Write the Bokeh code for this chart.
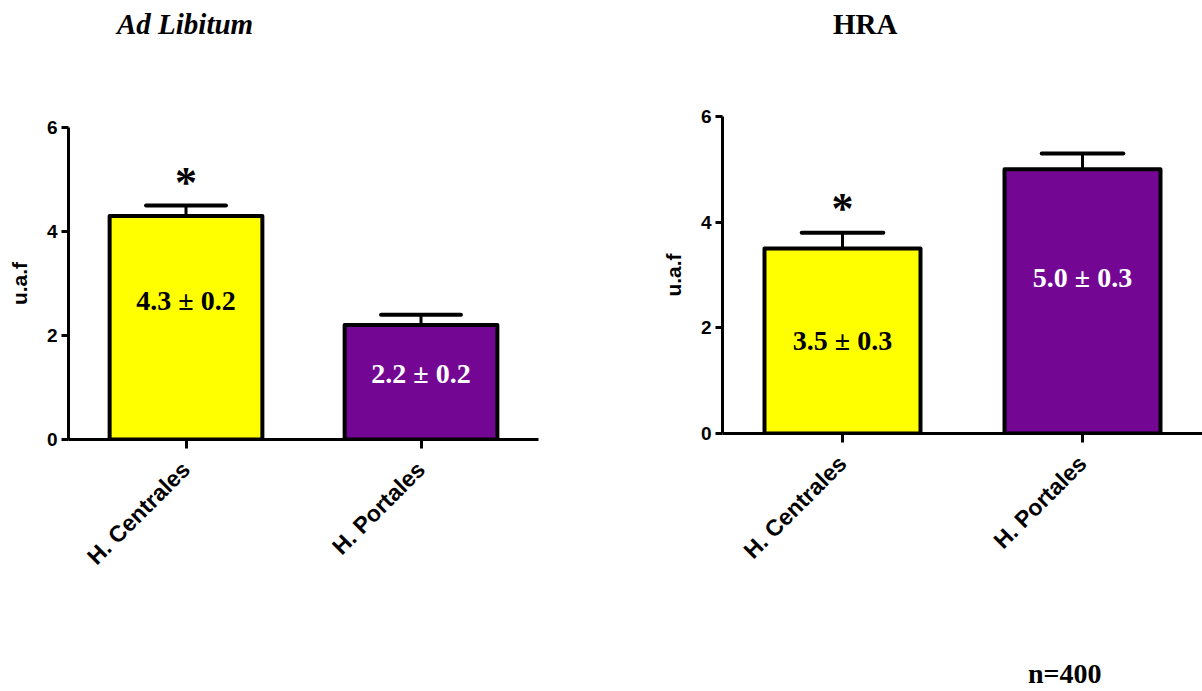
from math import pi

from bokeh.core.properties import value
from bokeh.embed import file_html
from bokeh.layouts import column, row
from bokeh.models import Div, FixedTicker, Range1d
from bokeh.plotting import figure
from bokeh.resources import INLINE

# --- data -------------------------------------------------------------
categories = ["H. Centrales", "H. Portales"]
panel_titles = ["Ad Libitum", "HRA"]
adlib_mean = [4.3, 2.2]
adlib_sem = [0.2, 0.2]
hra_mean = [3.5, 5.0]
hra_sem = [0.3, 0.3]
significant = [True, False]      # asterisk above the central hepatocytes
y_ticks = [0, 2, 4, 6]
y_label = "u.a.f"
sample_note = "n=400"

# --- styling ----------------------------------------------------------
bar_colors = ["#FFFF00", "#730794"]
value_text_colors = ["black", "white"]
SANS = "Liberation Sans"
SERIF = "Liberation Serif"
TITLE_H = 48


def text_div(text, height, pad_left, italic=False, pad_top=0, line_h=None):
    return Div(text=text, width=601, height=height, margin=0,
               styles={"font-family": SERIF, "font-weight": "bold",
                       "font-style": "italic" if italic else "normal",
                       "font-size": "29px" if line_h is None else "28px",
                       "line-height": f"{line_h or height}px",
                       "padding-top": f"{pad_top}px",
                       "padding-left": f"{pad_left}px", "color": "black",
                       "box-sizing": "border-box", "white-space": "nowrap"})


def make_panel(means, sems, label_y, height, border_left, border_right,
               border_top, border_bottom):
    xs = list(range(len(categories)))
    p = figure(width=601, height=height, output_backend="svg", toolbar_location=None,
               x_range=Range1d(-0.5, 1.5), y_range=Range1d(y_ticks[0], y_ticks[-1]),
               min_border_left=border_left, min_border_right=border_right,
               min_border_top=border_top, min_border_bottom=border_bottom)
    p.outline_line_color = None
    p.grid.visible = False
    p.background_fill_color = "white"
    p.border_fill_color = "white"

    # error bars: stem + cap
    tops = [m + s for m, s in zip(means, sems)]
    p.segment(x0=xs, y0=means, x1=xs, y1=tops, line_color="black", line_width=3)
    p.segment(x0=[x - 0.17 for x in xs], y0=tops, x1=[x + 0.17 for x in xs], y1=tops,
              line_color="black", line_width=4, line_cap="round")

    # bars
    p.vbar(x=xs, top=means, bottom=0, width=0.65, fill_color=bar_colors,
           line_color="black", line_width=4, line_join="round")

    # value labels inside the bars
    p.text(x=xs, y=label_y,
           text=[f"{m:.1f} ± {s:.1f}" for m, s in zip(means, sems)],
           text_color=value_text_colors, text_font=value(SERIF),
           text_font_style="bold", text_font_size="28px",
           text_align="center", text_baseline="middle")

    # significance marks
    sx = [x for x, f in zip(xs, significant) if f]
    sy = [t + 0.45 for t, f in zip(tops, significant) if f]
    p.text(x=sx, y=sy, text=["*"] * len(sx), text_color="black",
           text_font=value(SERIF), text_font_style="bold", text_font_size="44px",
           text_align="center", text_baseline="middle")

    # axes
    ya = p.yaxis[0]
    ya.ticker = FixedTicker(ticks=y_ticks)
    ya.minor_tick_line_color = None
    ya.axis_line_width = 3
    ya.major_tick_line_width = 3
    ya.major_tick_in = 0
    ya.major_tick_out = 7
    ya.major_label_standoff = 4
    ya.major_label_text_font = SANS
    ya.major_label_text_font_style = "bold"
    ya.major_label_text_font_size = "19px"
    ya.major_label_text_color = "black"
    ya.axis_label = y_label
    ya.axis_label_text_font = SANS
    ya.axis_label_text_font_style = "bold"
    ya.axis_label_text_font_size = "21px"
    ya.axis_label_text_color = "black"
    ya.axis_label_standoff = 13

    xa = p.xaxis[0]
    xa.ticker = FixedTicker(ticks=xs)
    xa.major_label_overrides = {x: c for x, c in zip(xs, categories)}
    xa.minor_tick_line_color = None
    xa.axis_line_width = 3
    xa.major_tick_line_width = 3
    xa.major_tick_in = 0
    xa.major_tick_out = 9
    xa.major_label_orientation = pi / 4
    xa.major_label_standoff = 17
    xa.major_label_text_font = SANS
    xa.major_label_text_font_style = "bold"
    xa.major_label_text_font_size = "23px"
    xa.major_label_text_color = "black"
    return p


left = make_panel(adlib_mean, adlib_sem, [2.67, 1.27], 691 - TITLE_H, 68, 63, 79, 252)
right = make_panel(hra_mean, hra_sem, [1.76, 2.95], 650 - TITLE_H, 121, 0, 68, 217)

left_title = text_div(panel_titles[0], TITLE_H, 117, italic=True)
right_title = text_div(panel_titles[1], TITLE_H, 232)
note = text_div(sample_note, 41, 427, pad_top=10, line_h=28)

layout = row(column(left_title, left, spacing=0),
             column(right_title, right, note, spacing=0), spacing=0)
open("out.html", "w").write(file_html(layout, INLINE))
